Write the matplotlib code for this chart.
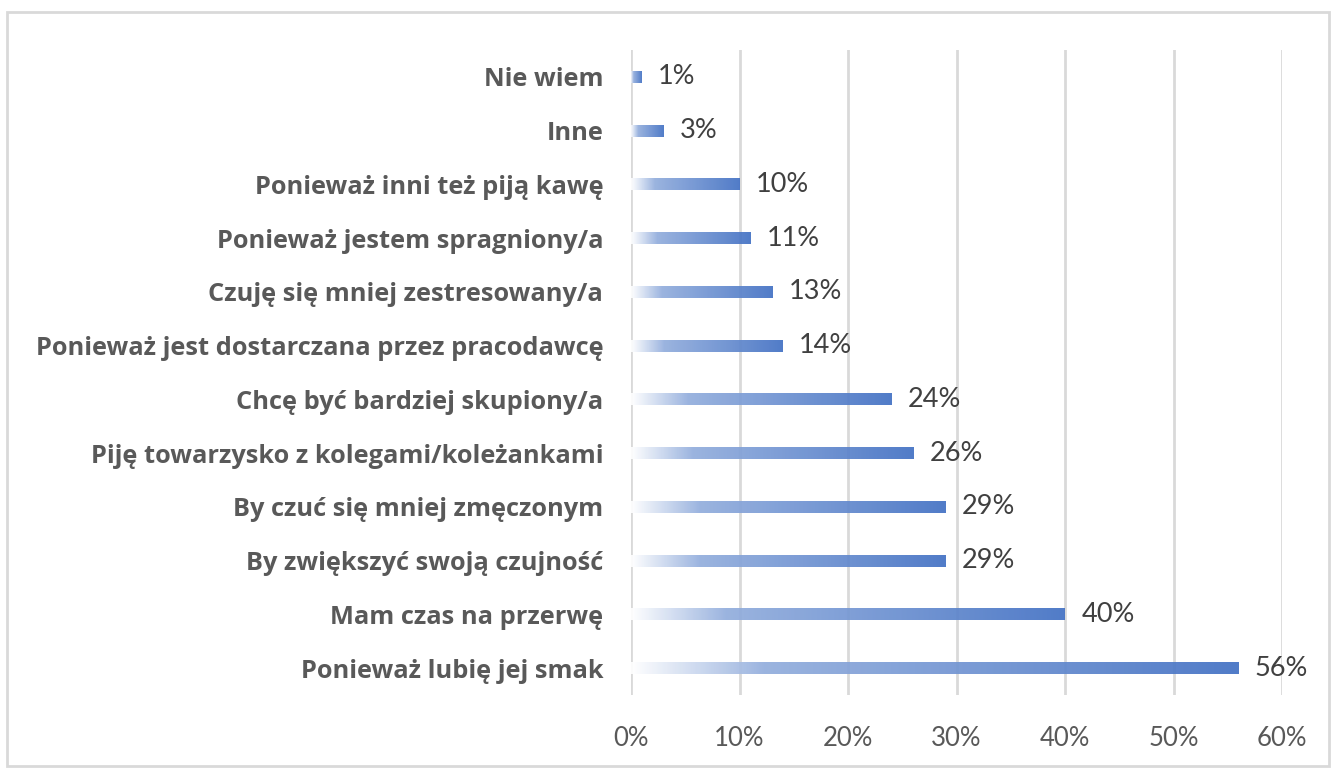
import numpy as np
import matplotlib.pyplot as plt
from matplotlib.colors import LinearSegmentedColormap
from matplotlib.patches import Rectangle

categories = ['Nie wiem', 'Inne', 'Ponieważ inni też piją kawę', 'Ponieważ jestem spragniony/a',
              'Czuję się mniej zestresowany/a', 'Ponieważ jest dostarczana przez pracodawcę',
              'Chcę być bardziej skupiony/a', 'Piję towarzysko z kolegami/koleżankami',
              'By czuć się mniej zmęczonym', 'By zwiększyć swoją czujność',
              'Mam czas na przerwę', 'Ponieważ lubię jej smak']
values = [1, 3, 10, 11, 13, 14, 24, 26, 29, 29, 40, 56]
xticks = [0, 10, 20, 30, 40, 50, 60]

plt.rcParams['font.family'] = ['Lato', 'DejaVu Sans']

fig = plt.figure(figsize=(13.36, 7.7), dpi=100)
ax = fig.add_axes([631/1336, 1 - 695/770, (1282-631)/1336, (695-50)/770])

# white -> blue gradient, stretched along each bar
cmap = LinearSegmentedColormap.from_list('grad', [(0, '#ffffff'), (0.22, '#93aedd'), (1, '#4472c4')])
grad = np.linspace(0, 1, 256).reshape(1, -1)
bar_h = 0.22

n = len(categories)
ypos = np.arange(n)
for y, v in zip(ypos, values):
    im = ax.imshow(grad, cmap=cmap, aspect='auto', extent=[0, v, y + bar_h/2, y - bar_h/2],
                   zorder=2, alpha=0.93, interpolation='bicubic')
    clip = Rectangle((0, y - bar_h/2), v, bar_h, transform=ax.transData)
    im.set_clip_path(clip)
    ax.text(v + 1.5, y, f'{v}%', va='center', ha='left', fontsize=19.5, color='#404040', zorder=3)

ax.set_xlim(0, 60)
ax.set_ylim(n - 0.5, -0.5)
ax.set_yticks(ypos)
ax.set_yticklabels(categories, fontsize=18.3, fontweight='bold', color='#595959',
                   family=['Open Sans', 'DejaVu Sans'])
ax.set_xticks(xticks)
ax.set_xticklabels([f'{t}%' for t in xticks], fontsize=18.5, color='#595959')
ax.tick_params(axis='both', length=0)
ax.tick_params(axis='y', pad=20)
ax.tick_params(axis='x', pad=22)
ax.grid(axis='x', color='#d9d9d9', linewidth=2, zorder=1)
ax.set_axisbelow(True)
for s in ax.spines.values():
    s.set_visible(False)

fig.patches.append(Rectangle((7/1336, 1 - 766/770), 1322/1336, 754/770, transform=fig.transFigure,
                             fill=False, edgecolor='#d9d9d9', linewidth=2))

fig.savefig('out.png', dpi=100)
